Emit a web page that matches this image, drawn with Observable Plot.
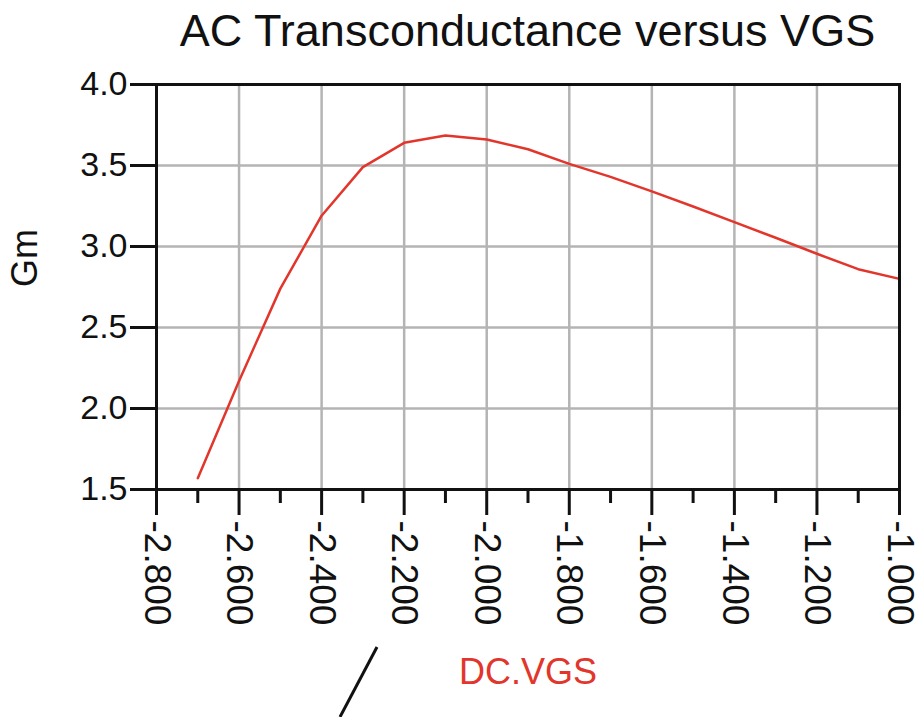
<!DOCTYPE html>
<html>
<head>
<meta charset="utf-8">
<script src="https://cdn.jsdelivr.net/npm/d3@7"></script>
<script src="https://cdn.jsdelivr.net/npm/@observablehq/plot@0.6"></script>
<style>
  html, body { margin: 0; padding: 0; background: #fff; }
  #title {
    width: 921px; box-sizing: border-box; padding-left: 134px;
    text-align: center; font: 45px "Liberation Sans", Arial, sans-serif;
    line-height: 62px; height: 62px; color: #111; white-space: nowrap;
  }
  #chart svg { display: block; }
</style>
</head>
<body>
<div id="title">AC Transconductance versus VGS</div>
<div id="chart"></div>
<script>
const titleText = "AC Transconductance versus VGS";
const xLabel = "DC.VGS";
const yLabel = "Gm";

const vgs = [-2.7, -2.6, -2.5, -2.4, -2.3, -2.2, -2.1, -2.0, -1.9, -1.8, -1.7, -1.6, -1.5, -1.4, -1.3, -1.2, -1.1, -1.0];
const gm  = [1.57, 2.17, 2.74, 3.19, 3.49, 3.64, 3.685, 3.66, 3.60, 3.51, 3.43, 3.34, 3.247, 3.15, 3.054, 2.955, 2.86, 2.80];

const xMajorTicks = [-2.8, -2.6, -2.4, -2.2, -2.0, -1.8, -1.6, -1.4, -1.2, -1.0];
const xMinorTicks = [-2.7, -2.5, -2.3, -2.1, -1.9, -1.7, -1.5, -1.3, -1.1];
const xGrid = [-2.6, -2.4, -2.2, -2.0, -1.8, -1.6, -1.4, -1.2];
const yTicks = [1.5, 2.0, 2.5, 3.0, 3.5, 4.0];
const yGrid = [2.0, 2.5, 3.0, 3.5];

const data = vgs.map((v, i) => ({vgs: v, gm: gm[i]}));

const plot = Plot.plot({
  width: 921,
  height: 655,
  marginTop: 22,
  marginBottom: 228,
  marginLeft: 156,
  marginRight: 22,
  style: {fontFamily: "'Liberation Sans', Arial, sans-serif", fontSize: "34px", color: "#111", background: "#fff"},
  x: {domain: [-2.8, -1.0]},
  y: {domain: [1.5, 4.0]},
  marks: [
    Plot.gridX(xGrid, {stroke: "#b4b4b4", strokeOpacity: 1, strokeWidth: 2.5}),
    Plot.gridY(yGrid, {stroke: "#b4b4b4", strokeOpacity: 1, strokeWidth: 2.5}),
    Plot.line(data, {x: "vgs", y: "gm", stroke: "#e2362c", strokeWidth: 2.5}),
    Plot.frame({stroke: "#111", strokeWidth: 3}),
    Plot.axisY(yTicks, {tickSize: 26, tickPadding: 3, strokeWidth: 3, tickFormat: d => d.toFixed(1), fontSize: 34, label: null}),
    Plot.axisX(xMinorTicks, {tickSize: 14, strokeWidth: 3, text: null, label: null}),
    Plot.axisX(xMajorTicks, {tickSize: 26, tickPadding: 5, strokeWidth: 3, tickRotate: 90, tickFormat: d => d.toFixed(3), fontSize: 37, label: null}),
    Plot.text([yLabel], {frameAnchor: "left", dx: -131, rotate: -90, fontSize: 36, fill: "#111"}),
    Plot.text([xLabel], {frameAnchor: "bottom", dy: 194, fontSize: 36, fill: "#e2362c"})
  ]
});

// decorative pen stroke seen in the reference below the axis
d3.select(plot).append("line")
  .attr("x1", 377).attr("y1", 585).attr("x2", 340).attr("y2", 655)
  .attr("stroke", "#111").attr("stroke-width", 3);

document.getElementById("chart").appendChild(plot);
</script>
</body>
</html>
